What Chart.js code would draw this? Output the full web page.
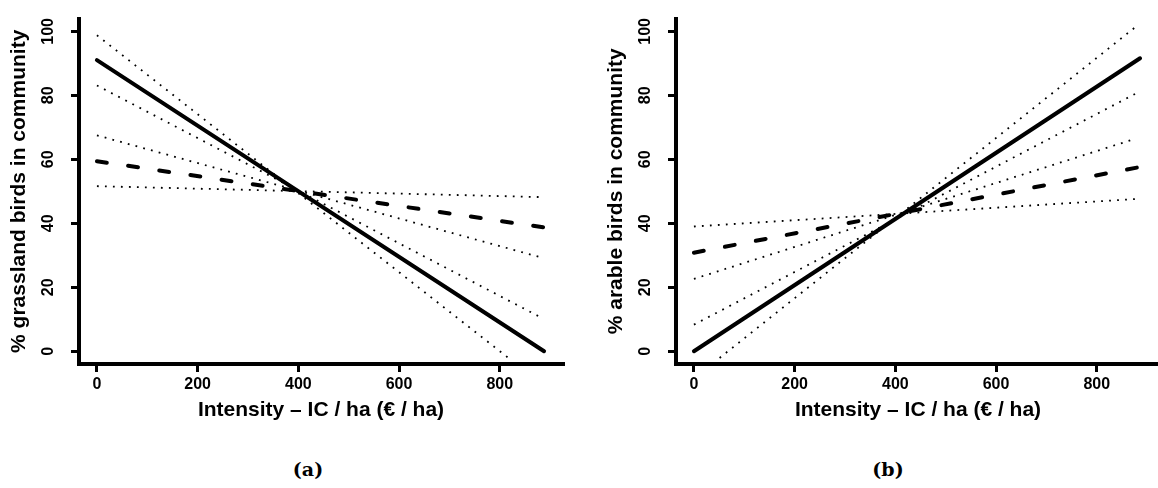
<!DOCTYPE html>
<html>
<head>
<meta charset="utf-8">
<script src="https://cdn.jsdelivr.net/npm/chart.js@4.4.1/dist/chart.umd.min.js"></script>
<style>
  html, body { margin: 0; padding: 0; background: #fff; overflow: hidden; width: 1158px; height: 488px; }
  .panel { position: absolute; top: 0; }
  .cap { position: absolute; top: 458px; width: 60px; text-align: center; font: bold 19px "DejaVu Serif", serif; color: #000; }
</style>
</head>
<body>
<div class="panel" style="left:0px"><canvas id="chartA" width="570" height="440"></canvas></div>
<div class="panel" style="left:597px"><canvas id="chartB" width="570" height="440"></canvas></div>
<div class="cap" style="left:278px">(a)</div>
<div class="cap" style="left:858px">(b)</div>
<script>
// tick labels of both panels
var xTicks = [0, 200, 400, 600, 800];
var yTicks = [0, 20, 40, 60, 80, 100];

// (a) grassland birds - fitted lines (ends of each straight line)
var grassFitX = [0, 888];
var grassSolid = [91.0, 0.0];
var grassDashed = [59.4, 38.7];
// (a) confidence bands (dotted)
var grassCiX = [0, 880];
var grassSteepHiX = [0, 818];
var grassSteepHi = [98.8, -2.2];
var grassSteepLo = [83.1, 10.7];
var grassFlatHi = [67.5, 29.4];
var grassFlatLo = [51.6, 48.2];

// (b) arable birds - fitted lines
var arableFitX = [0, 886];
var arableSolid = [0.0, 91.6];
var arableDashed = [30.8, 57.6];
// (b) confidence bands (dotted)
var arableCiX = [0, 878];
var arableSteepHiX = [51, 878];
var arableSteepHi = [-2.1, 101.5];
var arableSteepLo = [8.3, 80.6];
var arableFlatHi = [22.6, 66.5];
var arableFlatLo = [39.0, 47.6];

function pts(xs, ys) {
  return xs.map(function (x, i) { return { x: x, y: ys[i] }; });
}

function solidSet(xs, ys) {
  return { data: pts(xs, ys), showLine: true, borderColor: "#000", borderWidth: 4,
           borderCapStyle: "round", pointRadius: 0, fill: false };
}
function dashedSet(xs, ys) {
  return { data: pts(xs, ys), showLine: true, borderColor: "#000", borderWidth: 4,
           borderCapStyle: "round", borderDash: [10, 21.5], pointRadius: 0, fill: false };
}
function dottedSet(xs, ys) {
  return { data: pts(xs, ys), showLine: true, borderColor: "#000", borderWidth: 1.8,
           borderDash: [1.8, 6.2], pointRadius: 0, fill: false };
}

var tickFont = { family: "'Liberation Sans', Arial, sans-serif", weight: "bold", size: 16 };
var titleFont = { family: "'Liberation Sans', Arial, sans-serif", weight: "bold", size: 21 };

function makeChart(id, yTitle, datasets) {
  var ctx = document.getElementById(id).getContext("2d");
  return new Chart(ctx, {
    type: "scatter",
    data: { datasets: datasets },
    options: {
      responsive: false,
      animation: false,
      layout: { padding: { left: 0, top: 12, right: 7, bottom: 0 } },
      plugins: { legend: { display: false }, tooltip: { enabled: false } },
      scales: {
        x: {
          type: "linear", min: -35.6, max: 925.6,
          afterBuildTicks: function (s) { s.ticks = xTicks.map(function (v) { return { value: v }; }); },
          afterFit: function (s) { s.height = 76; },
          grid: { drawOnChartArea: false, drawTicks: true, tickLength: 8, lineWidth: 3, color: "#000" },
          border: { display: true, width: 4, color: "#000" },
          ticks: { color: "#000", font: tickFont, padding: 3, maxRotation: 0, autoSkip: false },
          title: { display: true, text: "Intensity – IC / ha (€ / ha)", color: "#000", font: titleFont,
                   padding: { top: 0, bottom: 17 } }
        },
        y: {
          type: "linear", min: -4, max: 104,
          afterBuildTicks: function (s) { s.ticks = yTicks.map(function (v) { return { value: v }; }); },
          afterFit: function (s) { s.width = 79; },
          grid: { drawOnChartArea: false, drawTicks: true, tickLength: 8, lineWidth: 3, color: "#000" },
          border: { display: true, width: 4, color: "#000" },
          ticks: { color: "#000", font: tickFont, padding: 9, minRotation: 90, maxRotation: 90,
                   crossAlign: "center", autoSkip: false },
          title: { display: true, text: yTitle, color: "#000", font: titleFont,
                   padding: { top: 7, bottom: 0 } }
        }
      }
    }
  });
}

var chartA = makeChart("chartA", "% grassland birds in community", [
  dottedSet(grassSteepHiX, grassSteepHi),
  dottedSet(grassCiX, grassSteepLo),
  dottedSet(grassCiX, grassFlatHi),
  dottedSet(grassCiX, grassFlatLo),
  solidSet(grassFitX, grassSolid),
  dashedSet(grassFitX, grassDashed)
]);

var chartB = makeChart("chartB", "% arable birds in community", [
  dottedSet(arableSteepHiX, arableSteepHi),
  dottedSet(arableCiX, arableSteepLo),
  dottedSet(arableCiX, arableFlatHi),
  dottedSet(arableCiX, arableFlatLo),
  solidSet(arableFitX, arableSolid),
  dashedSet(arableFitX, arableDashed)
]);
</script>
</body>
</html>
